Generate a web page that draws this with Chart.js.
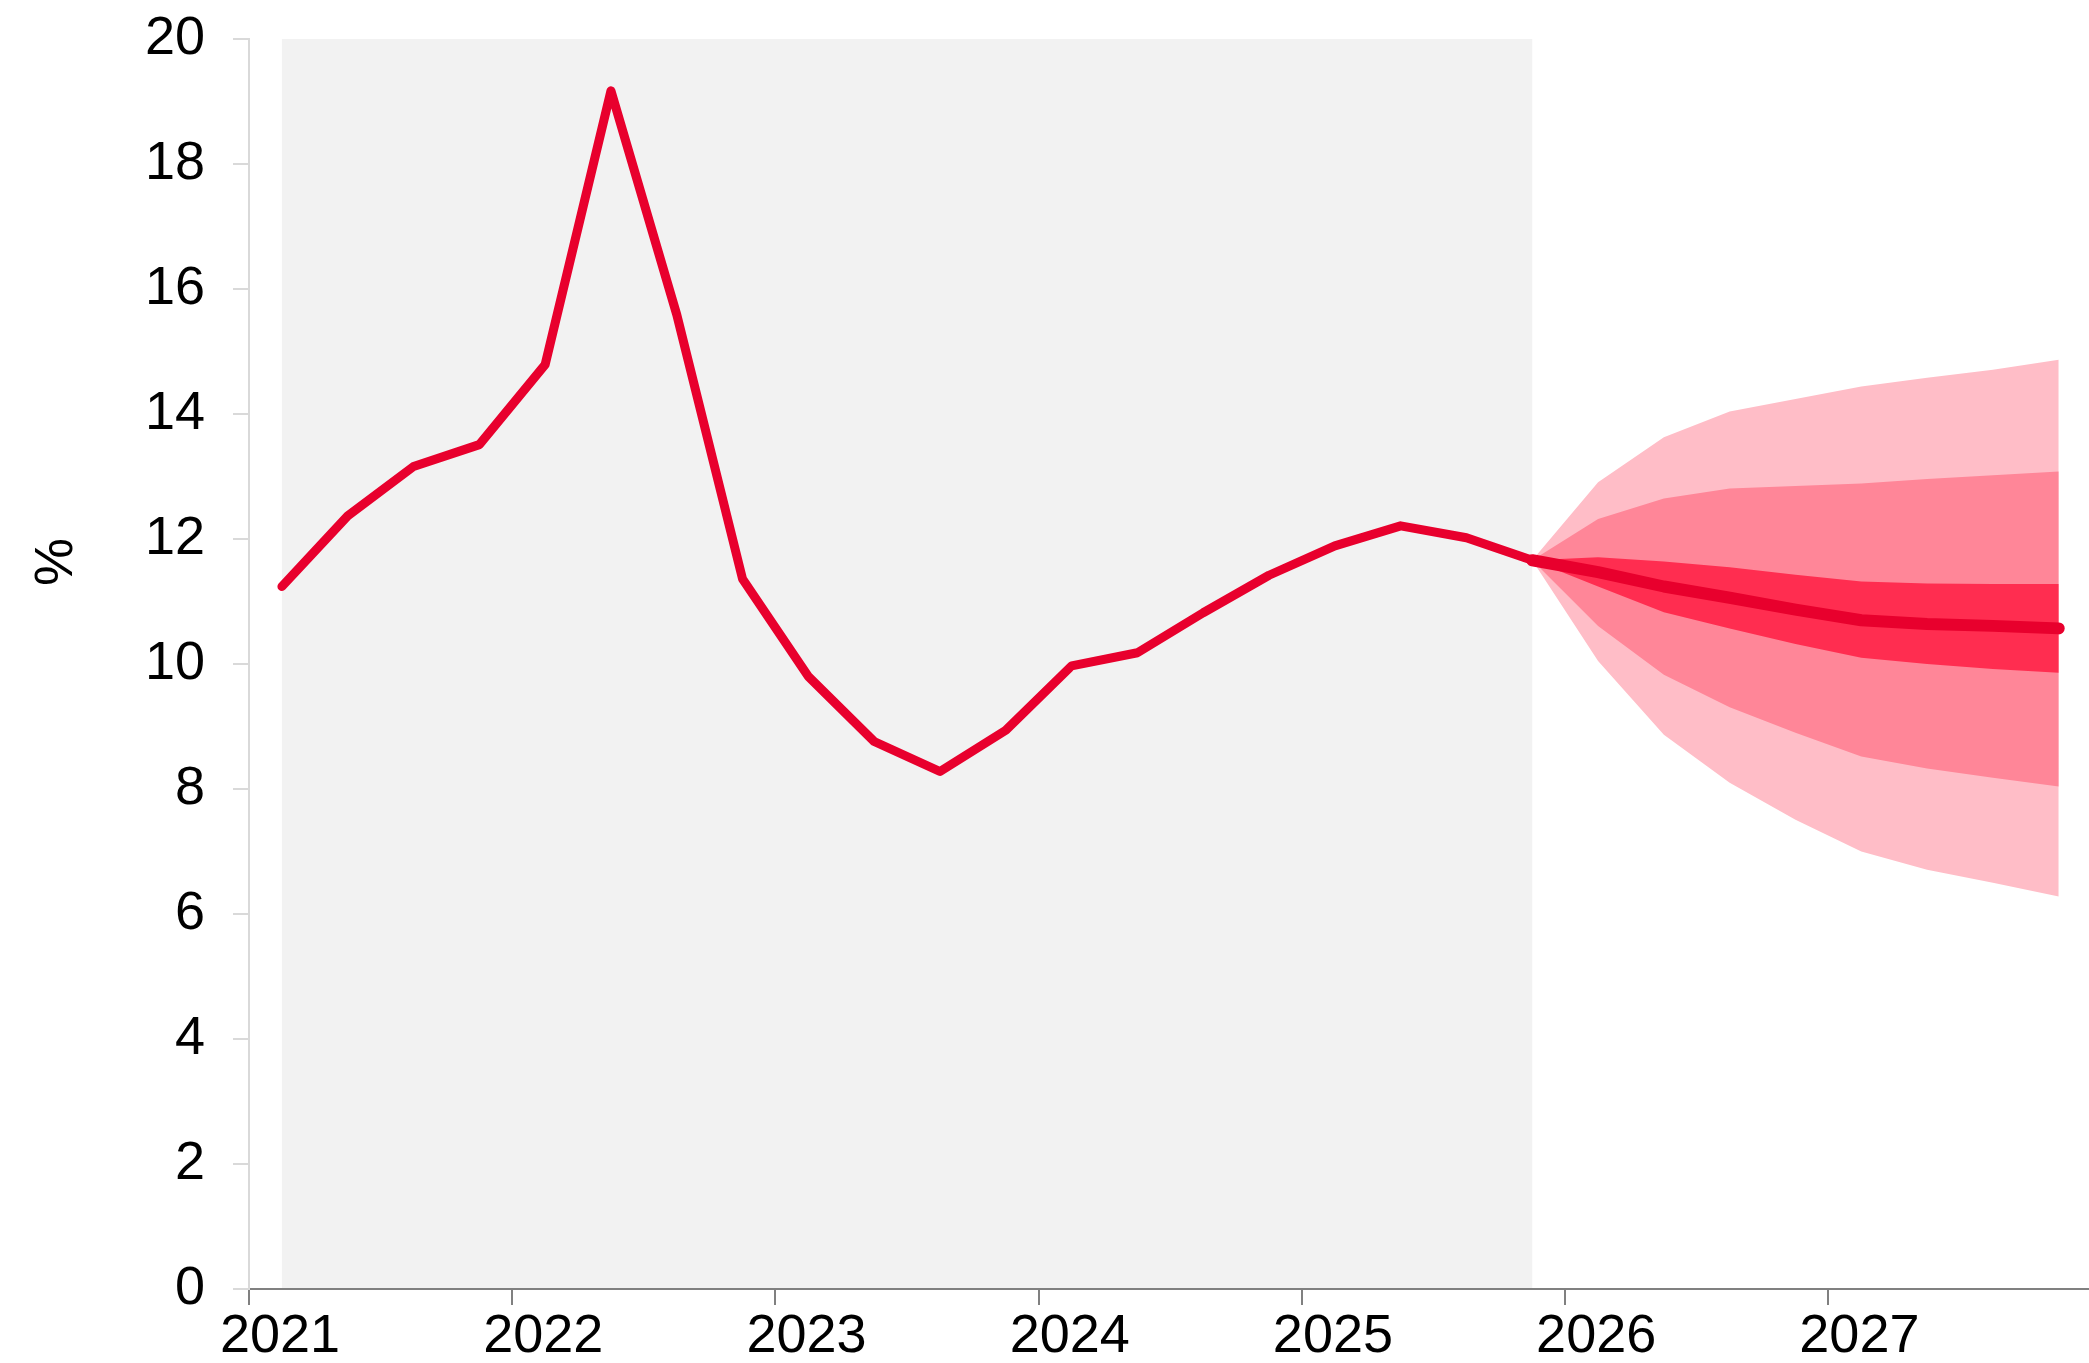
<!DOCTYPE html>
<html lang="en">
<head>
    <meta charset="UTF-8">
    <title>Inflation fan chart</title>
    <script src="https://cdn.jsdelivr.net/npm/chart.js"></script>
    <style>
        html, body { margin: 0; padding: 0; background: #ffffff; }
        #wrap { width: 2089px; height: 1363px; position: relative; }
    </style>
</head>
<body>
    <div id="wrap">
        <canvas id="myChart"></canvas>
    </div>

<script>
    // Historical quarters and values
    const histQuarters = ['2021Q1','2021Q2','2021Q3','2021Q4','2022Q1','2022Q2','2022Q3','2022Q4',
                          '2023Q1','2023Q2','2023Q3','2023Q4','2024Q1','2024Q2','2024Q3','2024Q4',
                          '2025Q1','2025Q2','2025Q3','2025Q4'];
    const histValues = [11.24, 12.37, 13.16, 13.51, 14.79, 19.17, 15.59, 11.36,
                        9.80, 8.76, 8.28, 8.94, 9.97, 10.18, 10.82, 11.42,
                        11.89, 12.21, 12.02, 11.66];

    // Forecast quarters, central path and fan bands
    const fcQuarters = ['2025Q4','2026Q1','2026Q2','2026Q3','2026Q4','2027Q1','2027Q2','2027Q3','2027Q4'];
    const fcCentral  = [11.66, 11.47, 11.24, 11.06, 10.87, 10.70, 10.64, 10.61, 10.57];
    const innerUpper = [11.66, 11.71, 11.64, 11.55, 11.43, 11.32, 11.29, 11.28, 11.28];
    const innerLower = [11.66, 11.24, 10.83, 10.57, 10.32, 10.10, 10.00, 9.92, 9.86];
    const midUpper   = [11.66, 12.32, 12.65, 12.81, 12.85, 12.89, 12.96, 13.02, 13.08];
    const midLower   = [11.66, 10.61, 9.83, 9.31, 8.90, 8.52, 8.33, 8.18, 8.04];
    const outerUpper = [11.66, 12.91, 13.63, 14.04, 14.24, 14.44, 14.58, 14.71, 14.87];
    const outerLower = [11.66, 10.05, 8.87, 8.10, 7.51, 7.00, 6.71, 6.50, 6.28];

    // Axis ticks
    const yearTicks = [2021, 2022, 2023, 2024, 2025, 2026, 2027];
    const yTicks = [0, 2, 4, 6, 8, 10, 12, 14, 16, 18, 20];
    const shadeFrom = '2021Q1';
    const shadeTo = '2025Q4';

    // quarter label -> position at the middle of the quarter
    function qPos(q) {
        return parseInt(q.slice(0, 4)) + (parseInt(q.slice(5)) - 0.5) / 4;
    }
    function pts(quarters, values) {
        return quarters.map((q, i) => ({ x: qPos(q), y: values[i] }));
    }

    const RED = '#e8002d';
    const FONT = '"Liberation Sans", Arial, sans-serif';

    function band(values, color, target, order) {
        return {
            data: pts(fcQuarters, values),
            borderWidth: 0,
            pointRadius: 0,
            backgroundColor: color,
            fill: target === null ? false : { target: target },
            order: order
        };
    }

    // grey background for the history period
    const shadePlugin = {
        id: 'shade',
        beforeDraw(chart) {
            const ctx = chart.ctx, x = chart.scales.x, a = chart.chartArea;
            const x0 = x.getPixelForValue(qPos(shadeFrom));
            const x1 = x.getPixelForValue(qPos(shadeTo));
            ctx.save();
            ctx.fillStyle = '#f2f2f2';
            ctx.fillRect(x0, a.top, x1 - x0, a.bottom - a.top);
            ctx.restore();
        }
    };

    // rotated unit label
    const unitPlugin = {
        id: 'unit',
        afterDraw(chart) {
            const ctx = chart.ctx;
            ctx.save();
            ctx.translate(57, 562);
            ctx.rotate(-Math.PI / 2);
            ctx.font = '54px ' + FONT;
            ctx.fillStyle = '#000';
            ctx.textAlign = 'center';
            ctx.textBaseline = 'middle';
            ctx.fillText('%', 0, 0);
            ctx.restore();
        }
    };

    const config = {
        type: 'line',
        data: {
            datasets: [
                band(outerUpper, '#ffbdc7', 1, 6),
                band(outerLower, '#ffbdc7', null, 6),
                band(midUpper, '#ff8698', 3, 5),
                band(midLower, '#ff8698', null, 5),
                band(innerUpper, '#ff2d50', 5, 4),
                band(innerLower, '#ff2d50', null, 4),
                {
                    data: pts(fcQuarters, fcCentral),
                    borderColor: RED,
                    borderWidth: 12,
                    borderCapStyle: 'round',
                    borderJoinStyle: 'round',
                    pointRadius: 0,
                    fill: false,
                    order: 1
                },
                {
                    data: pts(histQuarters, histValues),
                    borderColor: RED,
                    borderWidth: 9,
                    borderCapStyle: 'round',
                    borderJoinStyle: 'round',
                    pointRadius: 0,
                    fill: false,
                    order: 0
                }
            ]
        },
        options: {
            responsive: true,
            maintainAspectRatio: false,
            animation: false,
            layout: { padding: { top: 39, right: 0, left: 0, bottom: 0 } },
            plugins: {
                legend: { display: false },
                tooltip: { enabled: false }
            },
            scales: {
                x: {
                    type: 'linear',
                    min: 2021,
                    max: 2027.99,
                    afterBuildTicks: (s) => { s.ticks = yearTicks.map(v => ({ value: v })); },
                    afterFit: (s) => { s.height = 74; s.paddingLeft = 0; s.paddingRight = 0; },
                    grid: {
                        drawOnChartArea: false,
                        drawTicks: true,
                        tickLength: 16,
                        color: '#808080',
                        lineWidth: 2
                    },
                    border: { display: true, color: '#808080', width: 2 },
                    ticks: {
                        color: '#000',
                        font: { family: FONT, size: 54 },
                        padding: 0,
                        labelOffset: 31,
                        maxRotation: 0,
                        callback: (v) => String(v)
                    }
                },
                y: {
                    min: 0,
                    max: 20,
                    afterBuildTicks: (s) => { s.ticks = yTicks.map(v => ({ value: v })); },
                    afterFit: (s) => { s.width = 249; s.paddingTop = 0; s.paddingBottom = 0; },
                    grid: {
                        drawOnChartArea: false,
                        drawTicks: true,
                        tickLength: 16,
                        color: '#d9d9d9',
                        lineWidth: 2
                    },
                    border: { display: true, color: '#d9d9d9', width: 2 },
                    ticks: {
                        color: '#000',
                        font: { family: FONT, size: 54 },
                        padding: 28
                    }
                }
            }
        },
        plugins: [shadePlugin, unitPlugin]
    };

    new Chart(document.getElementById('myChart').getContext('2d'), config);
</script>
</body>
</html>
